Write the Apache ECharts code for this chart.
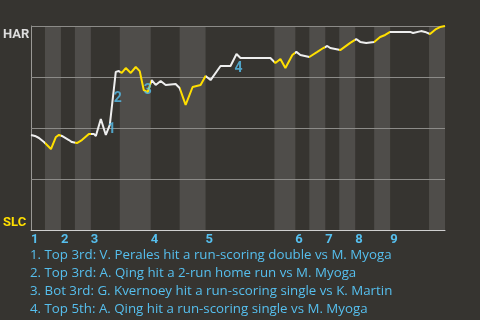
<!DOCTYPE html>
<html>
<head>
<meta charset="utf-8">
<script src="https://cdn.jsdelivr.net/npm/echarts@6/dist/echarts.min.js"></script>
<style>html,body{margin:0;padding:0;background:#363430;}#c{width:480px;height:320px;}</style>
</head>
<body>
<div id="c"></div>
<script>
// Game progress (x) and home-team win probability (y, HAR = 1, SLC = 0)
const progress = [0,4,8,13,14,20,25,28,31,38,41,46,51,58,63,65,70,75,79,85,88,91,95,100,105,109,113,117,121,125,130,135,145,149,155,162,170,175,180,190,200,206,210,240,245,250,255,262,266,270,279,287,293,297,300,310,320,326,330,336,344,350,355,360,365,380,383,391,395,400,406,410,415];
const winProb = [0.466,0.461,0.451,0.431,0.426,0.397,0.456,0.466,0.461,0.441,0.431,0.426,0.441,0.471,0.471,0.461,0.544,0.466,0.515,0.775,0.779,0.770,0.794,0.770,0.799,0.779,0.686,0.676,0.735,0.711,0.730,0.711,0.716,0.696,0.613,0.701,0.711,0.755,0.735,0.804,0.804,0.863,0.843,0.843,0.819,0.838,0.794,0.858,0.873,0.858,0.848,0.873,0.892,0.902,0.892,0.882,0.917,0.936,0.922,0.917,0.922,0.946,0.956,0.971,0.971,0.971,0.966,0.975,0.971,0.961,0.985,0.995,1.0];
// Inning starts and bottom-half ranges
const inningStarts = [0,30,60,120,175,265,295,325,360];
const inningLabels = ['1','2','3','4','5','6','7','8','9'];
const bottomHalves = [[14,30],[44,60],[89,120],[149,175],[244,265],[279,295],[309,325],[344,360],[399,415]];
// Horizontal reference levels
const gridLevels = [0.25,0.5,0.75,1];
// Scoring event markers
const eventX = [81,87,117,208];
const eventY = [0.495,0.647,0.686,0.794];
const eventLabels = ['1','2','3','4'];
const notes = [
  '1. Top 3rd: V. Perales hit a run-scoring double vs M. Myoga',
  '2. Top 3rd: A. Qing hit a 2-run home run vs M. Myoga',
  '3. Bot 3rd: G. Kvernoey hit a run-scoring single vs K. Martin',
  '4. Top 5th: A. Qing hit a run-scoring single vs M. Myoga'
];
const teamTop = 'HAR', teamBottom = 'SLC';

const BLUE = '#56bfee', YELLOW = '#ffdf00', WHITE = '#eeeeee';
const chart = echarts.init(document.getElementById('c'), null, {renderer: 'canvas'});
chart.setOption({
  backgroundColor: '#363430',
  animation: false,
  title: {
    text: notes.join('\n'), left: 30, top: 246, padding: 0,
    textStyle: {color: BLUE, fontSize: 13.3, fontWeight: 'normal', fontFamily: 'Open Sans', lineHeight: 18}
  },
  grid: {left: 30, right: 35, top: 26, bottom: 90},
  xAxis: {
    type: 'value', min: 0, max: 415,
    axisLine: {show: true, lineStyle: {color: '#cfcfcf', width: 1}},
    axisTick: {show: false}, splitLine: {show: false},
    axisLabel: {
      customValues: inningStarts,
      formatter: v => inningLabels[inningStarts.indexOf(v)] || '',
      align: 'left', margin: 3,
      color: BLUE, fontSize: 13, fontWeight: 'bold', fontFamily: 'Roboto'
    }
  },
  yAxis: {
    type: 'value', min: 0, max: 1, interval: 0.25,
    axisLine: {show: true, lineStyle: {color: '#9a9996'}},
    axisTick: {show: false},
    splitLine: {show: false},
    axisLabel: {
      align: 'left', margin: 28,
      formatter: v => v === 1 ? '{h|' + teamTop + '}' : (v === 0 ? '{s|' + teamBottom + '}' : ''),
      rich: {
        h: {color: '#dddddd', fontSize: 13, fontWeight: 'bold', fontFamily: 'Roboto', padding: [18,0,0,0]},
        s: {color: YELLOW, fontSize: 13, fontWeight: 'bold', fontFamily: 'Roboto', padding: [0,0,14,0]}
      }
    }
  },
  visualMap: {
    show: false, type: 'piecewise', dimension: 0, seriesIndex: 0,
    pieces: bottomHalves.map(b => ({gt: b[0], lte: b[1], color: YELLOW})),
    outOfRange: {color: WHITE}
  },
  series: [
    {
      type: 'line', data: progress.map((x, i) => [x, winProb[i]]),
      symbol: 'none', lineStyle: {width: 2}, z: 5
    },
    {
      type: 'line', data: [], z: 1,
      markArea: {
        silent: true, z: 1,
        itemStyle: {color: '#4f4d4a'},
        data: bottomHalves.map(b => [{xAxis: b[0]}, {xAxis: b[1]}])
      }
    },
    {
      type: 'line', data: [], z: 3,
      markLine: {
        silent: true, z: 3, symbol: 'none', label: {show: false},
        lineStyle: {color: '#8c8b88', width: 1, type: 'solid'},
        data: gridLevels.map(v => ({yAxis: v}))
      }
    },
    {
      type: 'scatter', symbolSize: 0, z: 6,
      data: eventX.map((x, i) => [x, eventY[i]]),
      label: {
        show: true, position: 'inside', formatter: p => eventLabels[p.dataIndex],
        color: BLUE, fontSize: 14, fontWeight: 'bold', fontFamily: 'Roboto'
      }
    }
  ]
});
</script>
</body>
</html>
